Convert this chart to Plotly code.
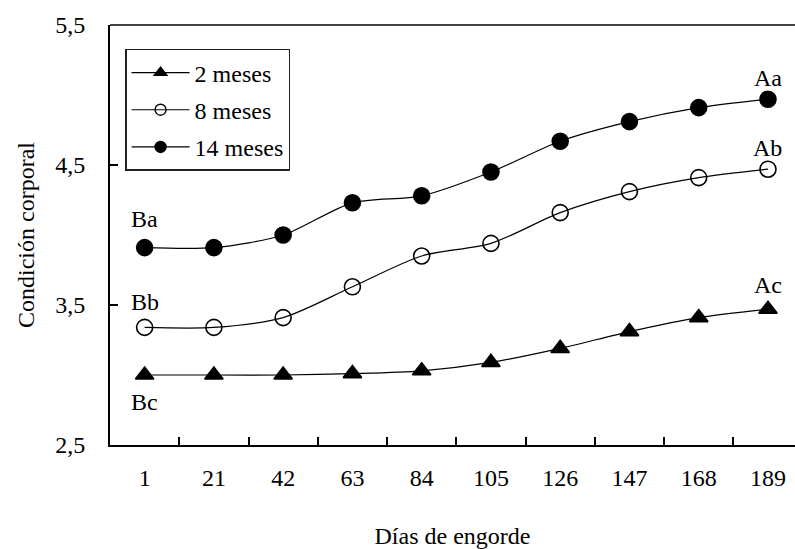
import plotly.graph_objects as go

dias = ["1", "21", "42", "63", "84", "105", "126", "147", "168", "189"]
m2 = [3.00, 3.00, 3.00, 3.01, 3.03, 3.09, 3.19, 3.31, 3.41, 3.47]
m8 = [3.34, 3.34, 3.41, 3.63, 3.85, 3.94, 4.16, 4.31, 4.41, 4.47]
m14 = [3.91, 3.91, 4.00, 4.23, 4.28, 4.45, 4.67, 4.81, 4.91, 4.97]
y_ticks = [2.5, 3.5, 4.5, 5.5]
y_labels = ["2,5", "3,5", "4,5", "5,5"]
series = [
    ("2 meses", m2, "triangle-up", "a"),
    ("8 meses", m8, "circle-open", "b"),
    ("14 meses", m14, "circle", "c"),
]

FONT = "Liberation Serif, Times New Roman, serif"
FS = 24

fig = go.Figure()
for name, vals, sym, grp in series:
    mk = dict(symbol=sym, size=16, color="black", line=dict(width=1.6, color="black"))
    fig.add_trace(go.Scatter(x=dias, y=vals, name=name, mode="lines+markers",
                             legendgroup=grp, showlegend=False,
                             line=dict(color="black", width=1.2, shape="spline", smoothing=0.8),
                             marker=mk))
    # legend entry with smaller symbol, as in the original legend
    fig.add_trace(go.Scatter(x=[None], y=[None], name=name, mode="lines+markers",
                             legendgroup=grp, showlegend=True,
                             line=dict(color="black", width=1.2),
                             marker=dict(symbol=sym, size=11, color="black",
                                         line=dict(width=1.4, color="black"))))

# letters (x given as category index)
first, last = 0, len(dias) - 1
ann = [
    (first, m14[0], "Ba", 29),
    (first, m8[0], "Bb", 25),
    (first, m2[0], "Bc", -27),
    (last, m14[-1], "Aa", 21),
    (last, m8[-1], "Ab", 21),
    (last, m2[-1], "Ac", 24),
]
for x, y, t, dy in ann:
    fig.add_annotation(x=x, y=y, text=t, showarrow=False, yshift=dy,
                       font=dict(family=FONT, size=FS, color="black"))

fig.add_shape(type="line", xref="paper", yref="paper", x0=0, x1=1, y0=1, y1=1,
              line=dict(color="#404040", width=2))

fig.update_layout(
    width=795, height=549,
    margin=dict(l=110, r=0, t=25, b=104),
    paper_bgcolor="white", plot_bgcolor="white",
    font=dict(family=FONT, size=FS, color="black"),
    showlegend=True,
    legend=dict(x=0.022, y=0.943, xanchor="left", yanchor="top",
                bgcolor="white", bordercolor="#222222", borderwidth=1.5,
                itemwidth=58, tracegroupgap=3, traceorder="grouped",
                font=dict(family=FONT, size=FS, color="black")),
    xaxis=dict(type="category", range=[-0.5, 9.39], showgrid=False, automargin=False,
               showline=True, linecolor="black", linewidth=2,
               ticks="inside", tickson="boundaries", ticklen=8, tickwidth=1.5,
               tickcolor="black", ticklabelstandoff=10,
               title=dict(text="Días de engorde", standoff=45,
                          font=dict(family=FONT, size=FS))),
    yaxis=dict(range=[2.5, 5.5], showgrid=False, zeroline=False, automargin=False,
               showline=True, linecolor="black", linewidth=2,
               ticks="inside", ticklen=8, tickwidth=1.5, tickcolor="black",
               tickvals=y_ticks, ticktext=y_labels, ticklabelstandoff=18,
               title=dict(text="Condición corporal", standoff=14,
                          font=dict(family=FONT, size=FS))),
)

fig.write_html("out.html")
